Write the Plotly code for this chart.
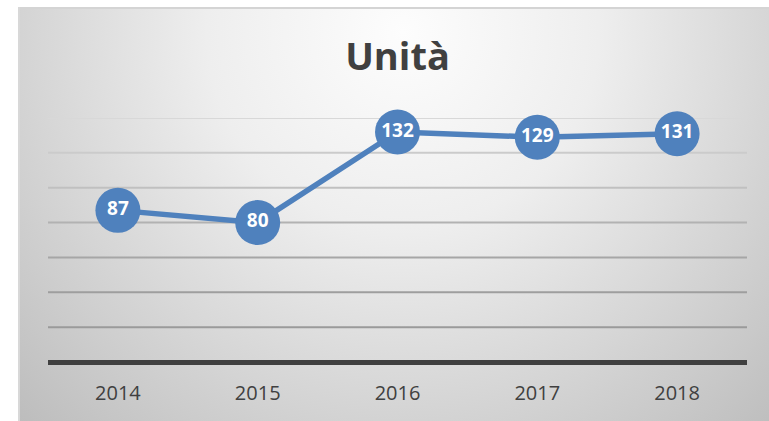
import base64
import plotly.graph_objects as go

# ---- data ----
years = ["2014", "2015", "2016", "2017", "2018"]
units = [87, 80, 132, 129, 131]
grid_values = [20, 40, 60, 80, 100, 120, 140]
grid_colors = ["#9a9a9a", "#9e9e9e", "#a6a6a6", "#b2b2b2", "#c0c0c0", "#cbcbcb", "#d8d8d8"]
title_text = "Unità"

# ---- layout constants ----
W, H = 769, 421
ML, MR, MT, MB = 48, 22, 118, 59
PW, PH = W - ML - MR, H - MT - MB
BG_X0, BG_Y0 = 18, 7

svg = f"""<svg xmlns='http://www.w3.org/2000/svg' width='{W-BG_X0}' height='{H-BG_Y0}' viewBox='0 0 {W-BG_X0} {H-BG_Y0}' preserveAspectRatio='none'>
<defs><radialGradient id='g' gradientUnits='userSpaceOnUse' cx='385' cy='25' r='560'>
<stop offset='0' stop-color='#fdfdfd'/><stop offset='0.35' stop-color='#eeeeee'/><stop offset='1' stop-color='#bbbbbb'/></radialGradient></defs>
<rect x='0' y='0' width='{W-BG_X0}' height='{H-BG_Y0}' fill='url(#g)'/>
<line x1='0' y1='1' x2='{W-BG_X0}' y2='1' stroke='#d4d4d4' stroke-width='2'/>
<line x1='1' y1='0' x2='1' y2='{H-BG_Y0}' stroke='#d8d8d8' stroke-width='2'/>
</svg>"""
src = "data:image/svg+xml;base64," + base64.b64encode(svg.encode()).decode()

fig = go.Figure()
fig.add_trace(go.Scatter(
    x=years, y=units, mode="lines+markers+text",
    line=dict(color="#4f81bd", width=5.5),
    marker=dict(size=45, color="#4f81bd", line=dict(width=0)),
    text=[str(v) for v in units], textposition="middle center",
    textfont=dict(family="Open Sans", size=19, color="white", weight="bold"),
    hoverinfo="skip", cliponaxis=False,
))

for v, c in zip(grid_values, grid_colors):
    fig.add_shape(type="line", xref="paper", yref="y", x0=0, x1=1, y0=v, y1=v,
                  line=dict(color=c, width=2), layer="below")

fig.add_layout_image(dict(
    source=src, xref="paper", yref="paper",
    x=(BG_X0 - ML) / PW, y=(H - MB - BG_Y0) / PH,
    sizex=(W - BG_X0) / PW, sizey=(H - BG_Y0) / PH,
    xanchor="left", yanchor="top", sizing="stretch", layer="below",
))

fig.update_layout(
    width=W, height=H,
    margin=dict(l=ML, r=MR, t=MT, b=MB, pad=0),
    paper_bgcolor="white", plot_bgcolor="rgba(0,0,0,0)",
    showlegend=False,
    title=dict(text=title_text, x=0.5, xref="paper", xanchor="center",
               y=1 - 57 / H, yref="container", yanchor="middle",
               font=dict(family="Open Sans", size=38, color="#404040", weight="bold")),
    xaxis=dict(range=[-0.5, 4.5], showgrid=False, zeroline=False, showline=False,
               ticks="outside", ticklen=13, tickcolor="rgba(0,0,0,0)",
               tickfont=dict(family="Open Sans", size=20, color="#404040"),
               fixedrange=True),
    yaxis=dict(range=[0, 140], showgrid=False, showticklabels=False,
               zeroline=True, zerolinecolor="#404040", zerolinewidth=5,
               showline=False, ticks="", fixedrange=True),
)

fig.write_html(
    "out.html",
    config={"displayModeBar": False},
    post_script="document.body.style.margin='0';document.body.style.overflow='hidden';",
)
